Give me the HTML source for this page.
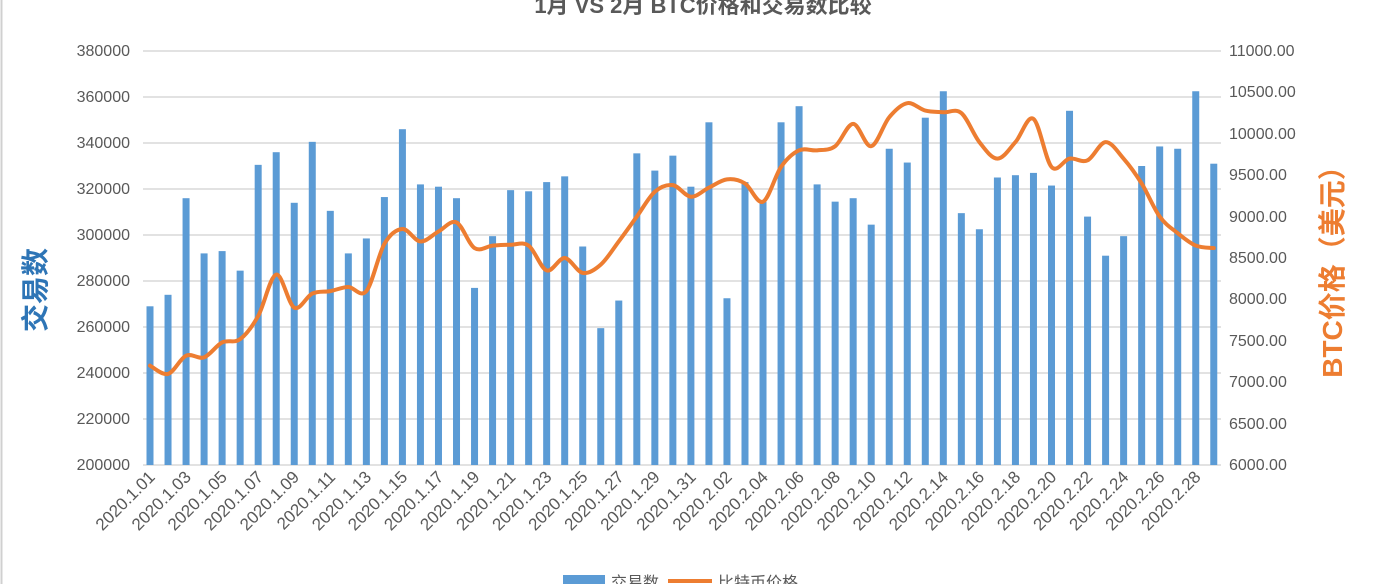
<!DOCTYPE html>
<html><head><meta charset="utf-8"><style>
html,body{margin:0;padding:0;background:#fff;}
svg{display:block;font-family:"Liberation Sans","Noto Sans CJK SC",sans-serif;}
</style></head><body>
<svg id="c" width="1378" height="584" viewBox="0 0 1378 584" xmlns="http://www.w3.org/2000/svg">
<rect x="0" y="0" width="1378" height="584" fill="#fff"/>
<line x1="1.5" y1="0" x2="1.5" y2="584" stroke="#d0d0d0" stroke-width="2"/>
<text x="703" y="13" text-anchor="middle" font-size="22" font-weight="bold" fill="#595959">1月 VS 2月 BTC价格和交易数比较</text>
<g id="grid" stroke="#d9d9d9" stroke-width="1.5"></g>
<g id="bars" fill="#5b9bd5"></g>
<path id="line" fill="none" stroke="#ed7d31" stroke-width="4" stroke-linejoin="round" stroke-linecap="round"/>
<g font-size="16" fill="#595959" text-anchor="end">
<text x="130" y="56">380000</text><text x="130" y="102">360000</text><text x="130" y="148">340000</text>
<text x="130" y="194">320000</text><text x="130" y="240">300000</text><text x="130" y="286">280000</text>
<text x="130" y="332">260000</text><text x="130" y="378">240000</text><text x="130" y="424">220000</text>
<text x="130" y="470">200000</text>
</g>
<g font-size="16" fill="#595959" text-anchor="start">
<text x="1229" y="56">11000.00</text><text x="1229" y="97">10500.00</text><text x="1229" y="139">10000.00</text>
<text x="1229" y="180">9500.00</text><text x="1229" y="222">9000.00</text><text x="1229" y="263">8500.00</text>
<text x="1229" y="304">8000.00</text><text x="1229" y="346">7500.00</text><text x="1229" y="387">7000.00</text>
<text x="1229" y="429">6500.00</text><text x="1229" y="470">6000.00</text>
</g>
<g id="xl" font-size="17" fill="#595959" text-anchor="end">
<text>2020.1.01</text><text>2020.1.03</text><text>2020.1.05</text><text>2020.1.07</text><text>2020.1.09</text>
<text>2020.1.11</text><text>2020.1.13</text><text>2020.1.15</text><text>2020.1.17</text><text>2020.1.19</text>
<text>2020.1.21</text><text>2020.1.23</text><text>2020.1.25</text><text>2020.1.27</text><text>2020.1.29</text>
<text>2020.1.31</text><text>2020.2.02</text><text>2020.2.04</text><text>2020.2.06</text><text>2020.2.08</text>
<text>2020.2.10</text><text>2020.2.12</text><text>2020.2.14</text><text>2020.2.16</text><text>2020.2.18</text>
<text>2020.2.20</text><text>2020.2.22</text><text>2020.2.24</text><text>2020.2.26</text><text>2020.2.28</text>
</g>
<text transform="translate(45,290) rotate(-90)" text-anchor="middle" font-size="28" font-weight="bold" fill="#2e75b6">交易数</text>
<text transform="translate(1342,265) rotate(-90)" text-anchor="middle" font-size="28" font-weight="bold" fill="#ed7d31">BTC价格（美元）</text>
<rect x="563" y="575" width="42" height="12" fill="#5b9bd5"/>
<text x="611" y="588" font-size="16" fill="#595959">交易数</text>
<line x1="668" y1="581" x2="712" y2="581" stroke="#ed7d31" stroke-width="4"/>
<text x="718" y="588" font-size="16" fill="#595959">比特币价格</text>
</svg>
<script>
(function(){
var NS="http://www.w3.org/2000/svg";
var g=document.getElementById('grid');
for(var k=0;k<10;k++){var y=51+k*46;var l=document.createElementNS(NS,'line');l.setAttribute('x1',143);l.setAttribute('x2',1221);l.setAttribute('y1',y);l.setAttribute('y2',y);g.appendChild(l);}
var v=[269000,274000,316000,292000,293000,284500,330500,336000,314000,340500,310500,292000,298500,316500,346000,322000,321000,316000,277000,299500,319500,319000,323000,325500,295000,259500,271500,335500,328000,334500,321000,
349000,272500,323000,314500,349000,356000,322000,314500,316000,304500,337500,331500,351000,362500,309500,302500,325000,326000,327000,321500,354000,308000,291000,299500,330000,338500,337500,362500,331000];
var p=[7200,7100,7320,7300,7480,7520,7800,8300,7900,8070,8100,8150,8100,8670,8850,8700,8820,8930,8620,8650,8660,8650,8350,8500,8320,8420,8700,9000,9300,9380,9240,
9350,9450,9400,9180,9600,9800,9800,9850,10120,9850,10200,10370,10280,10260,10250,9900,9700,9900,10180,9600,9700,9680,9900,9700,9400,9000,8800,8650,8620];
var b=document.getElementById('bars');
function X(i){return 150+i*18.03;}
for(var i=0;i<v.length;i++){var y=465-(v[i]-200000)*414/180000;var r=document.createElementNS(NS,'rect');r.setAttribute('x',X(i)-3.5);r.setAttribute('width',7);r.setAttribute('y',y);r.setAttribute('height',465-y);b.appendChild(r);}
var pts=p.map(function(q,i){return [X(i),465-(q-6000)*414/5000];});
var d='M'+pts[0][0]+','+pts[0][1];
for(var i=0;i<pts.length-1;i++){var p0=pts[Math.max(0,i-1)],p1=pts[i],p2=pts[i+1],p3=pts[Math.min(pts.length-1,i+2)];
var c1x=p1[0]+(p2[0]-p0[0])/6,c1y=p1[1]+(p2[1]-p0[1])/6,c2x=p2[0]-(p3[0]-p1[0])/6,c2y=p2[1]-(p3[1]-p1[1])/6;
d+=' C'+c1x+','+c1y+' '+c2x+','+c2y+' '+p2[0]+','+p2[1];}
document.getElementById('line').setAttribute('d',d);
var ts=document.getElementById('xl').getElementsByTagName('text');
for(var j=0;j<ts.length;j++){var x=X(j*2)+6;ts[j].setAttribute('transform','translate('+x+',478) rotate(-45)');}
})();
</script>
</body></html>
